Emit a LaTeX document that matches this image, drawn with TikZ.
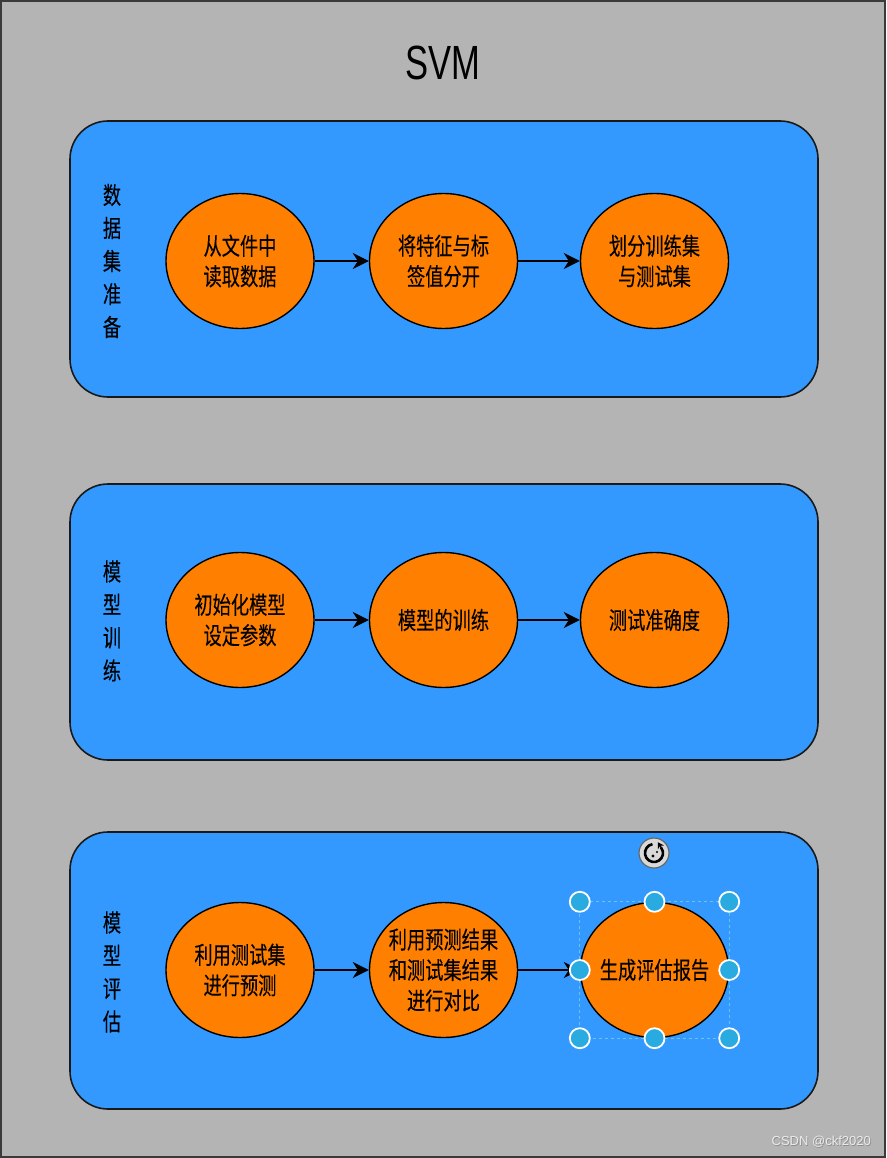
\documentclass[tikz,border=0pt]{standalone}
\usepackage{fontspec}
\setmainfont{Liberation Sans}
\newfontfamily\titlefont[FakeStretch=0.72]{Liberation Sans}
\newfontfamily\cjk[FakeStretch=0.76,FakeBold=0.2]{Noto Sans CJK SC}
\usetikzlibrary{arrows.meta,shapes.geometric}
\definecolor{bggray}{HTML}{B4B4B4}
\definecolor{panelblue}{HTML}{3399FF}
\definecolor{ellorange}{HTML}{FF8000}
\definecolor{handleblue}{HTML}{29ABE2}
\definecolor{edgegray}{HTML}{3A3A3A}
\tikzset{
  panel/.style={draw=black!90, line width=1.6pt, fill=panelblue, rounded corners=38pt},
  ell/.style={ellipse, draw=black, line width=1.4pt, fill=ellorange, minimum width=148pt, minimum height=135pt, inner sep=0pt},
  lbl/.style={align=center, inner sep=0pt, font=\cjk\fontsize{24}{30.5}\selectfont},
  sidelabel/.style={align=center, inner sep=0pt, font=\cjk\fontsize{24}{33}\selectfont},
  flow/.style={-{Stealth[length=16pt,width=16pt,inset=5pt]}, line width=2.6pt, black},
  handle/.style={circle, fill=handleblue, draw=white, line width=1.8pt, minimum size=20pt, inner sep=0pt},
}
\begin{document}
\begin{tikzpicture}[x=1pt,y=-1pt]
\useasboundingbox (0,0) rectangle (886,1158);
\fill[bggray] (0,0) rectangle (886,1158);
\draw[edgegray, line width=2.5pt] (1.2,1.2) rectangle (884.8,1156.8);

\node[font=\titlefont\fontsize{48}{50}\selectfont, inner sep=0pt] (title) at (443,63) {SVM};

% panels
\draw[panel] (70,121) rectangle (818,397);
\draw[panel] (70,484) rectangle (818,760);
\draw[panel] (70,832) rectangle (818,1109);

% side labels
\node[sidelabel] (l1) at (112,261) {数\\据\\集\\准\\备};
\node[sidelabel] (l2) at (112,621) {模\\型\\训\\练};
\node[sidelabel] (l3) at (112,972) {模\\型\\评\\估};

% row 1
\node[ell, label={[lbl]center:从文件中\\读取数据}] (a1) at (240,261) {};
\node[ell, label={[lbl]center:将特征与标\\签值分开}] (a2) at (443.5,261) {};
\node[ell, label={[lbl]center:划分训练集\\与测试集}] (a3) at (654.5,261) {};
% row 2
\node[ell, label={[lbl]center:初始化模型\\设定参数}] (b1) at (240,620) {};
\node[ell, label={[lbl]center:模型的训练}] (b2) at (443.5,620) {};
\node[ell, label={[lbl]center:测试准确度}] (b3) at (654.5,620) {};
% row 3
\node[ell, label={[lbl]center:利用测试集\\进行预测}] (c1) at (240,970) {};
\node[ell, label={[lbl]center:利用预测结果\\和测试集结果\\进行对比}] (c2) at (443.5,970) {};
\node[ell, label={[lbl]center:生成评估报告}] (c3) at (654.5,970) {};

\draw[flow] (a1.east) -- (a2.west);
\draw[flow] (a2.east) -- (a3.west);
\draw[flow] (b1.east) -- (b2.west);
\draw[flow] (b2.east) -- (b3.west);
\draw[flow] (c1.east) -- (c2.west);
\draw[flow] (c2.east) -- (c3.west);

% selection box and handles
\coordinate (nw) at (c3.west |- c3.north);
\coordinate (ne) at (c3.east |- c3.north);
\coordinate (sw) at (c3.west |- c3.south);
\coordinate (se) at (c3.east |- c3.south);
\draw[handleblue!70, dashed, line width=0.8pt] (nw) rectangle (se);
\foreach \p/\n in {nw/h1, c3.north/h2, ne/h3, c3.west/h4, c3.east/h5, sw/h6, c3.south/h7, se/h8}
  \node[handle] (\n) at (\p) {};

% rotation icon
\coordinate (rot) at (654,853);
\fill[white!85!black] (rot) circle (15pt);
\draw[black!60, line width=1.2pt] (rot) circle (15pt);
\draw[black, line width=2.6pt] ([shift={(100:9pt)}]rot) arc[start angle=100, end angle=400, radius=9pt];
\draw[black, -{Stealth[length=6pt,width=7pt]}, line width=1.5pt] ([shift={(40:9pt)}]rot) -- ++(-3,-5);
\fill[black] ([shift={(-1,3)}]rot) circle (1.6pt);
\fill[black] ([shift={(3,-1)}]rot) circle (1.2pt);

% watermark
\node[font=\fontsize{13}{15}\selectfont, text=black!45, anchor=east, inner sep=0pt] (wm2) at (871.8,1142.8) {CSDN @ckf2020};
\node[font=\fontsize{13}{15}\selectfont, text=white!92!black, anchor=east, inner sep=0pt] (wm) at (871,1142) {CSDN @ckf2020};
\end{tikzpicture}
\end{document}
